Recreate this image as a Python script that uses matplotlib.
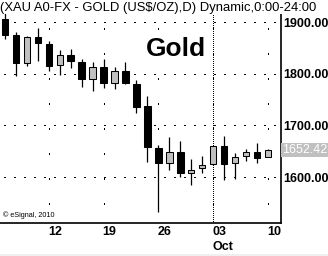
import matplotlib
matplotlib.use('Agg')
import matplotlib.pyplot as plt
from matplotlib.patches import Rectangle
import matplotlib.transforms as mtransforms

plt.rcParams['font.family'] = ['Liberation Sans', 'DejaVu Sans']
plt.rcParams['lines.scale_dashes'] = False

# daily gold bars, Sep 6 - Oct 10 2011
dates = ['09-06', '09-07', '09-08', '09-09', '09-12', '09-13', '09-14', '09-15', '09-16',
         '09-19', '09-20', '09-21', '09-22', '09-23', '09-26', '09-27', '09-28', '09-29',
         '09-30', '10-03', '10-04', '10-05', '10-06', '10-07', '10-10']
opens = [1906, 1875, 1821, 1871, 1857, 1817, 1836, 1823, 1790, 1813, 1782, 1805, 1780,
         1738, 1656, 1627, 1649, 1608, 1618, 1626, 1660, 1627, 1641, 1649, 1639]
highs = [1917, 1881, 1873, 1888, 1863, 1846, 1848, 1828, 1823, 1828, 1813, 1823, 1788,
         1757, 1662, 1678, 1670, 1635, 1641, 1661, 1680, 1647, 1654, 1666, 1654]
lows = [1867, 1796, 1815, 1825, 1805, 1797, 1811, 1774, 1767, 1772, 1770, 1780, 1724,
        1629, 1532, 1614, 1600, 1585, 1608, 1625, 1594, 1596, 1631, 1627, 1639]
closes = [1875, 1821, 1871, 1859, 1815, 1836, 1825, 1790, 1813, 1782, 1805, 1782, 1736,
          1658, 1627, 1649, 1608, 1614, 1624, 1660, 1625, 1639, 1649, 1637, 1652.42]

x_tick_dates = ['09-12', '09-19', '09-26', '10-03', '10-10']
x_tick_labels = ['12', '19', '26', '03', '10']
month_start = '10-03'
y_ticks = [1600, 1700, 1800, 1900]
last_price = closes[-1]

W, H = 328, 256
fig = plt.figure(figsize=(W / 100, H / 100), dpi=100)
fig.patch.set_facecolor('white')
fig.patches.append(Rectangle((0, 0), 1, 2 / H, transform=fig.transFigure,
                             facecolor='#f0f0f0', edgecolor='none'))

ax = fig.add_axes([0, 33 / H, 281 / W, 217 / H])
ax.set_xlim(-0.46, 25.2)
ax.set_ylim(1511, 1931)

# dotted grid
ax.yaxis.set_ticks(y_ticks)
for v in y_ticks:
    ax.axhline(v, color='black', lw=1, linestyle=(4.3, (0.72, 7.16)),
               antialiased=False, zorder=0)
for d in x_tick_dates:
    ax.axvline(dates.index(d), color='black', lw=1, linestyle=(4.3, (0.72, 17.9)),
               antialiased=False, zorder=0)
ax.axvline(dates.index(month_start), color='black', lw=1,
           linestyle=(0, (0.72, 1.44)), antialiased=False, zorder=0)

# candles
for i in range(len(dates)):
    o, h, l, c = opens[i], highs[i], lows[i], closes[i]
    ax.vlines(i, l, h, color='black', lw=0.9, zorder=2)
    face = '#c0c0c0' if c >= o else 'black'
    ax.add_patch(Rectangle((i - 0.3, min(o, c)), 0.6, max(abs(c - o), 0.8),
                           facecolor=face, edgecolor='black', lw=0.75, zorder=3))

# axes styling
for side in ['top', 'left']:
    ax.spines[side].set_visible(False)
ax.spines['right'].set_linewidth(1.2)
ax.spines['bottom'].set_linewidth(1.2)
ax.yaxis.tick_right()
ax.set_yticklabels([f'{v:.2f}' for v in y_ticks], fontsize=9, fontweight='bold')
ax.tick_params(axis='y', length=0, pad=1.5)
ax.set_xticks([dates.index(d) for d in x_tick_dates])
ax.set_xticklabels(x_tick_labels, fontsize=9, fontweight='bold', ha='left')
ax.tick_params(axis='x', length=0, pad=2)
for lbl in ax.get_xticklabels():
    lbl.set_transform(lbl.get_transform() + mtransforms.ScaledTranslation(-1 / 100, 0, fig.dpi_scale_trans))

# last price tag
ax.text(1.005, last_price, f'{last_price:.2f}', transform=ax.get_yaxis_transform(),
        ha='left', va='center', fontsize=9, color='white', clip_on=False,
        bbox=dict(boxstyle='square,pad=0.1', facecolor='#c0c0c0', edgecolor='none'))

# month label
ax.text(dates.index(month_start) - 0.05, -0.085, 'Oct', transform=ax.get_xaxis_transform(),
        ha='left', va='top', fontsize=9, fontweight='bold')

ax.text(0.52, 0.8, 'Gold', transform=ax.transAxes, fontsize=19, fontweight='bold',
        ha='left', va='center')
ax.text(0.01, 0.035, '\u00a9 eSignal, 2010', transform=ax.transAxes, fontsize=5.2,
        ha='left', va='center')

fig.text(0.0, 1 - 8 / H, '(XAU A0-FX - GOLD (US$/OZ),D) Dynamic,0:00-24:00',
         fontsize=9.4, ha='left', va='center', color='black',
         bbox=dict(boxstyle='square,pad=0', facecolor='white', edgecolor='none'))

fig.savefig('out.png', dpi=100)
